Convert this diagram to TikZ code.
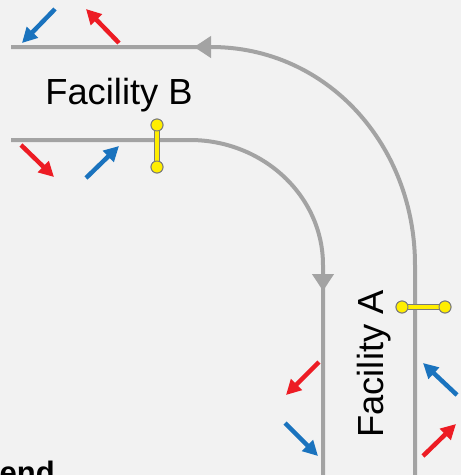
\documentclass[tikz,border=0pt]{standalone}
\usepackage{fontspec}
\setmainfont{Liberation Sans}
\usetikzlibrary{arrows.meta}
\definecolor{bg}{HTML}{F2F2F2}
\definecolor{trackgray}{HTML}{A3A3A3}
\definecolor{flowred}{HTML}{ED1C24}
\definecolor{flowblue}{HTML}{1A73BE}
\definecolor{gateyellow}{HTML}{FFEE00}
\definecolor{gateedge}{HTML}{7A7A7A}
\tikzset{
  track/.style={draw=trackgray, line width=4pt},
  trackhead/.style={draw=trackgray, line width=4pt, -{Triangle[length=17pt 0,width=21pt 0]}},
  flow/.style={line width=4.5pt, -{Triangle[length=15pt 0,width=15pt 0]}},
  redflow/.style={flow, draw=flowred, fill=flowred},
  blueflow/.style={flow, draw=flowblue, fill=flowblue},
  gatebar/.style={draw=gateedge, line width=0.8pt, double=gateyellow, double distance=3.6pt},
  gateend/.style={circle, draw=gateedge, line width=0.9pt, fill=gateyellow, minimum size=12pt, inner sep=0pt},
  label/.style={font=\fontsize{36.3}{40}\selectfont, inner sep=0pt},
}
\begin{document}
\begin{tikzpicture}[x=1pt, y=-1pt]
  \fill[bg] (0,0) rectangle (461,475);
  \useasboundingbox (0,0) rectangle (461,475);
  \clip (0,0) rectangle (461,475);

  % outer track: vertical leg, bend, horizontal leg with a leftward arrow
  \coordinate (oB) at (415,475);
  \coordinate (oV) at (415,265);
  \coordinate (oC) at (211,47);
  \coordinate (oH) at (215,47);
  \coordinate (oA) at (194,47);
  \coordinate (oT) at (11,47);
  \draw[track] (oB) -- (oV) .. controls (415,145) and (327,47) .. (oC) -- (oT);
  \draw[trackhead] (oH) -- (oA);

  % inner track: horizontal leg, bend, vertical leg with a downward arrow
  \coordinate (iT) at (11,140);
  \coordinate (iC) at (190,140);
  \coordinate (iV) at (323,265);
  \coordinate (iH) at (323,270);
  \coordinate (iA) at (323,291);
  \coordinate (iB) at (323,475);
  \draw[track] (iT) -- (iC) .. controls (263,140) and (323,196) .. (iV) -- (iB);
  \draw[trackhead] (iH) -- (iA);

  % gate across the inner track
  \node[gateend] (g1a) at (157,125) {};
  \node[gateend] (g1b) at (157,167) {};
  \draw[gatebar] (g1a.center) -- (g1b.center);
  \node[gateend] at (g1a) {};
  \node[gateend] at (g1b) {};

  % gate beside the outer track
  \node[gateend] (g2a) at (402,307) {};
  \node[gateend] (g2b) at (445,307) {};
  \draw[gatebar] (g2a.center) -- (g2b.center);
  \node[gateend] at (g2a) {};
  \node[gateend] at (g2b) {};

  % labels
  \node[label, anchor=base] (facB) at (119,104) {Facility B};
  \node[label, anchor=base, rotate=90] (facA) at (383,364) {Facility A};
  \node[font=\bfseries\fontsize{31}{34}\selectfont, inner sep=0pt, anchor=base east] (legend) at (55,483) {Legend};

  % flow arrows along the top leg
  \coordinate (a1s) at (55,9);   \coordinate (a1e) at (22,43);
  \coordinate (a2s) at (119,43); \coordinate (a2e) at (86,9);
  \draw[blueflow] (a1s) -- (a1e);
  \draw[redflow] (a2s) -- (a2e);

  % flow arrows below the lower leg
  \coordinate (a3s) at (21,145); \coordinate (a3e) at (54,177);
  \coordinate (a4s) at (86,178); \coordinate (a4e) at (119,146);
  \draw[redflow] (a3s) -- (a3e);
  \draw[blueflow] (a4s) -- (a4e);

  % flow arrows left of the inner vertical leg
  \coordinate (a5s) at (319,362); \coordinate (a5e) at (286,395);
  \coordinate (a6s) at (285,423); \coordinate (a6e) at (318,456);
  \draw[redflow] (a5s) -- (a5e);
  \draw[blueflow] (a6s) -- (a6e);

  % flow arrows right of the outer vertical leg
  \coordinate (a7s) at (457,395); \coordinate (a7e) at (423,363);
  \coordinate (a8s) at (423,456); \coordinate (a8e) at (456,424);
  \draw[blueflow] (a7s) -- (a7e);
  \draw[redflow] (a8s) -- (a8e);
\end{tikzpicture}
\end{document}
